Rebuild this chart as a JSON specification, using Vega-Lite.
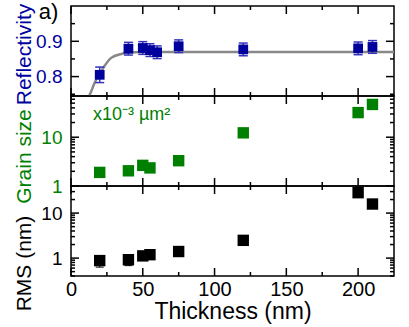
{
  "$schema": "https://vega.github.io/schema/vega-lite/v6.json",
  "padding": {"left": 12, "top": 0, "right": 5, "bottom": 5},
  "background": "white",
  "config": {
    "view": {"stroke": "#000", "strokeWidth": 1.5},
    "axis": {"domain": false, "grid": false, "ticks": false, "labelFont": "Liberation Sans", "titleFont": "Liberation Sans", "titleFontWeight": "normal", "labelColor": "#000", "titleColor": "#000", "labelOverlap": false, "labelFlush": false},
    "rule": {"color": "#000", "strokeWidth": 1.5}
  },
  "datasets": {
    "refl": [
      {"t": 20, "r": 0.805, "lo": 0.783, "hi": 0.827},
      {"t": 40, "r": 0.879, "lo": 0.861, "hi": 0.897},
      {"t": 50, "r": 0.881, "lo": 0.863, "hi": 0.899},
      {"t": 55, "r": 0.875, "lo": 0.857, "hi": 0.893},
      {"t": 60, "r": 0.869, "lo": 0.851, "hi": 0.887},
      {"t": 75, "r": 0.886, "lo": 0.868, "hi": 0.904},
      {"t": 120, "r": 0.877, "lo": 0.859, "hi": 0.895},
      {"t": 200, "r": 0.880, "lo": 0.862, "hi": 0.898},
      {"t": 210, "r": 0.884, "lo": 0.866, "hi": 0.902}
    ],
    "fit": [
      {"t": 12, "r": 0.73},
      {"t": 12.8, "r": 0.745},
      {"t": 14, "r": 0.757},
      {"t": 16, "r": 0.778},
      {"t": 18, "r": 0.795},
      {"t": 20, "r": 0.808},
      {"t": 23, "r": 0.828},
      {"t": 28, "r": 0.853},
      {"t": 35, "r": 0.864},
      {"t": 40, "r": 0.868},
      {"t": 50, "r": 0.87},
      {"t": 225, "r": 0.87}
    ],
    "grain": [
      {"t": 20, "g": 1.9},
      {"t": 40, "g": 2.05},
      {"t": 50, "g": 2.65},
      {"t": 55, "g": 2.35},
      {"t": 75, "g": 3.3},
      {"t": 120, "g": 12.3},
      {"t": 200, "g": 32},
      {"t": 210, "g": 47}
    ],
    "rms": [
      {"t": 20, "rms": 0.88},
      {"t": 40, "rms": 0.92},
      {"t": 50, "rms": 1.12},
      {"t": 55, "rms": 1.19},
      {"t": 75, "rms": 1.4},
      {"t": 120, "rms": 2.48},
      {"t": 200, "rms": 28.4},
      {"t": 210, "rms": 15.9}
    ],
    "rmserr": [
      {"t": 20, "lo": 0.63, "hi": 1.0},
      {"t": 40, "lo": 0.68, "hi": 1.0}
    ],
    "xmaj": [{"v": 0}, {"v": 50}, {"v": 100}, {"v": 150}, {"v": 200}],
    "xmin": [{"v": 25}, {"v": 75}, {"v": 125}, {"v": 175}],
    "y1maj": [{"v": 0.8}, {"v": 0.9}],
    "y1min": [{"v": 0.75}, {"v": 0.85}, {"v": 0.95}],
    "y2maj": [{"v": 1}, {"v": 10}],
    "y2min": [{"v": 2}, {"v": 3}, {"v": 4}, {"v": 5}, {"v": 6}, {"v": 7}, {"v": 8}, {"v": 9}, {"v": 20}, {"v": 30}, {"v": 40}, {"v": 50}, {"v": 60}, {"v": 70}],
    "y3maj": [{"v": 1}, {"v": 10}],
    "y3min": [{"v": 0.4}, {"v": 0.5}, {"v": 0.6}, {"v": 0.7}, {"v": 0.8}, {"v": 0.9}, {"v": 2}, {"v": 3}, {"v": 4}, {"v": 5}, {"v": 6}, {"v": 7}, {"v": 8}, {"v": 9}, {"v": 20}, {"v": 30}, {"v": 40}]
  },
  "spacing": 0,
  "bounds": "flush",
  "vconcat": [
    {
      "width": 323, "height": 90,
      "layer": [
        {
          "data": {"name": "refl"},
          "mark": {"type": "point", "opacity": 0},
          "encoding": {
            "x": {"field": "t", "type": "quantitative", "scale": {"domain": [0, 225], "nice": false, "zero": false},
              "axis": {"orient": "bottom", "values": [0, 50, 100, 150, 200], "labels": false, "title": null}},
            "y": {"field": "r", "type": "quantitative", "scale": {"domain": [0.745, 1.0], "nice": false, "zero": false},
              "axis": {"orient": "left", "values": [0.8, 0.9], "format": ".1f",
                "labelPadding": 9, "labelFontSize": 19, "labelColor": "#0000a0",
                "title": "Reflectivity", "titleColor": "#0000a0", "titleFontSize": 21, "titleX": -37, "titleY": 48}}
          }
        },
        {"data": {"name": "xmaj"}, "mark": {"type": "rule"},
          "encoding": {"x": {"field": "v", "type": "quantitative"}, "y": {"datum": 0.745, "type": "quantitative"}, "y2": {"datum": 0.7677}}},
        {"data": {"name": "xmin"}, "mark": {"type": "rule"},
          "encoding": {"x": {"field": "v", "type": "quantitative"}, "y": {"datum": 0.745, "type": "quantitative"}, "y2": {"datum": 0.7563}}},
        {"data": {"name": "xmaj"}, "mark": {"type": "rule"},
          "encoding": {"x": {"field": "v", "type": "quantitative"}, "y": {"datum": 1.0, "type": "quantitative"}, "y2": {"datum": 0.9773}}},
        {"data": {"name": "xmin"}, "mark": {"type": "rule"},
          "encoding": {"x": {"field": "v", "type": "quantitative"}, "y": {"datum": 1.0, "type": "quantitative"}, "y2": {"datum": 0.9887}}},
        {"data": {"name": "y1maj"}, "mark": {"type": "rule"},
          "encoding": {"y": {"field": "v", "type": "quantitative"}, "x": {"datum": 0, "type": "quantitative"}, "x2": {"datum": 5.57}}},
        {"data": {"name": "y1min"}, "mark": {"type": "rule"},
          "encoding": {"y": {"field": "v", "type": "quantitative"}, "x": {"datum": 0, "type": "quantitative"}, "x2": {"datum": 2.79}}},
        {"data": {"name": "y1maj"}, "mark": {"type": "rule"},
          "encoding": {"y": {"field": "v", "type": "quantitative"}, "x": {"datum": 225, "type": "quantitative"}, "x2": {"datum": 219.43}}},
        {"data": {"name": "y1min"}, "mark": {"type": "rule"},
          "encoding": {"y": {"field": "v", "type": "quantitative"}, "x": {"datum": 225, "type": "quantitative"}, "x2": {"datum": 222.21}}},
        {
          "data": {"name": "fit"},
          "mark": {"type": "line", "color": "#888888", "strokeWidth": 2.5, "interpolate": "monotone", "clip": true},
          "encoding": {
            "x": {"field": "t", "type": "quantitative"},
            "y": {"field": "r", "type": "quantitative"}
          }
        },
        {
          "data": {"name": "refl"},
          "mark": {"type": "rule", "color": "#3333bb", "strokeWidth": 1.5},
          "encoding": {
            "x": {"field": "t", "type": "quantitative"},
            "y": {"field": "lo", "type": "quantitative"},
            "y2": {"field": "hi"}
          }
        },
        {
          "data": {"name": "refl"},
          "mark": {"type": "tick", "orient": "horizontal", "color": "#3333bb", "size": 9, "thickness": 1.5, "opacity": 1},
          "encoding": {
            "x": {"field": "t", "type": "quantitative"},
            "y": {"field": "lo", "type": "quantitative"}
          }
        },
        {
          "data": {"name": "refl"},
          "mark": {"type": "tick", "orient": "horizontal", "color": "#3333bb", "size": 9, "thickness": 1.5, "opacity": 1},
          "encoding": {
            "x": {"field": "t", "type": "quantitative"},
            "y": {"field": "hi", "type": "quantitative"}
          }
        },
        {
          "data": {"name": "refl"},
          "mark": {"type": "point", "shape": "square", "filled": true, "size": 95, "opacity": 1, "color": "#00009c"},
          "encoding": {
            "x": {"field": "t", "type": "quantitative"},
            "y": {"field": "r", "type": "quantitative"}
          }
        },
        {
          "data": {"values": [{"label": "a)"}]},
          "mark": {"type": "text", "align": "left", "baseline": "alphabetic", "fontSize": 22, "font": "Liberation Sans", "color": "#000"},
          "encoding": {
            "x": {"datum": -22.5, "type": "quantitative"},
            "y": {"datum": 0.962, "type": "quantitative"},
            "text": {"field": "label"}
          }
        }
      ]
    },
    {
      "width": 323, "height": 90,
      "layer": [
        {
          "data": {"name": "grain"},
          "mark": {"type": "point", "opacity": 0},
          "encoding": {
            "x": {"field": "t", "type": "quantitative", "scale": {"domain": [0, 225], "nice": false, "zero": false},
              "axis": {"orient": "bottom", "values": [0, 50, 100, 150, 200], "labels": false, "title": null}},
            "y": {"field": "g", "type": "quantitative", "scale": {"type": "log", "domain": [1, 70], "nice": false},
              "axis": {"orient": "left", "values": [1, 10], "format": "~g",
                "labelPadding": 9, "labelFontSize": 19, "labelColor": "#008000",
                "title": "Grain size", "titleColor": "#008000", "titleFontSize": 21, "titleX": -37, "titleY": 60}}
          }
        },
        {"data": {"name": "xmaj"}, "mark": {"type": "rule"},
          "encoding": {"x": {"field": "v", "type": "quantitative"}, "y": {"datum": 1, "type": "quantitative"}, "y2": {"datum": 1.46}}},
        {"data": {"name": "xmin"}, "mark": {"type": "rule"},
          "encoding": {"x": {"field": "v", "type": "quantitative"}, "y": {"datum": 1, "type": "quantitative"}, "y2": {"datum": 1.208}}},
        {"data": {"name": "xmaj"}, "mark": {"type": "rule"},
          "encoding": {"x": {"field": "v", "type": "quantitative"}, "y": {"datum": 70, "type": "quantitative"}, "y2": {"datum": 47.9}}},
        {"data": {"name": "xmin"}, "mark": {"type": "rule"},
          "encoding": {"x": {"field": "v", "type": "quantitative"}, "y": {"datum": 70, "type": "quantitative"}, "y2": {"datum": 57.9}}},
        {"data": {"name": "y2maj"}, "mark": {"type": "rule"},
          "encoding": {"y": {"field": "v", "type": "quantitative"}, "x": {"datum": 0, "type": "quantitative"}, "x2": {"datum": 5.57}}},
        {"data": {"name": "y2min"}, "mark": {"type": "rule"},
          "encoding": {"y": {"field": "v", "type": "quantitative"}, "x": {"datum": 0, "type": "quantitative"}, "x2": {"datum": 2.79}}},
        {"data": {"name": "y2maj"}, "mark": {"type": "rule"},
          "encoding": {"y": {"field": "v", "type": "quantitative"}, "x": {"datum": 225, "type": "quantitative"}, "x2": {"datum": 219.43}}},
        {"data": {"name": "y2min"}, "mark": {"type": "rule"},
          "encoding": {"y": {"field": "v", "type": "quantitative"}, "x": {"datum": 225, "type": "quantitative"}, "x2": {"datum": 222.21}}},
        {
          "mark": {"type": "rule", "color": "#a0a0a0", "strokeWidth": 1},
          "encoding": {
            "y": {"datum": 2, "type": "quantitative"}
          }
        },
        {
          "data": {"name": "grain"},
          "mark": {"type": "point", "shape": "square", "filled": true, "size": 130, "opacity": 1, "color": "#008000"},
          "encoding": {
            "x": {"field": "t", "type": "quantitative"},
            "y": {"field": "g", "type": "quantitative"}
          }
        },
        {
          "data": {"values": [{"label": "x10⁻³ µm²"}]},
          "mark": {"type": "text", "align": "left", "baseline": "alphabetic", "fontSize": 18, "font": "Liberation Sans", "color": "#008000"},
          "encoding": {
            "x": {"datum": 15.3, "type": "quantitative"},
            "y": {"datum": 23, "type": "quantitative"},
            "text": {"field": "label"}
          }
        }
      ]
    },
    {
      "width": 323, "height": 90,
      "layer": [
        {
          "data": {"name": "rms"},
          "mark": {"type": "point", "opacity": 0},
          "encoding": {
            "x": {"field": "t", "type": "quantitative", "scale": {"domain": [0, 225], "nice": false, "zero": false},
              "axis": {"orient": "bottom", "values": [0, 50, 100, 150, 200], "format": "d",
                "labelPadding": 3, "labelFontSize": 20,
                "title": "Thickness (nm)", "titleFontSize": 23, "titleY": 24}},
            "y": {"field": "rms", "type": "quantitative", "scale": {"type": "log", "domain": [0.4, 40], "nice": false},
              "axis": {"orient": "left", "values": [1, 10], "format": "~g",
                "labelPadding": 9, "labelFontSize": 19,
                "title": "RMS (nm)", "titleFontSize": 21, "titleX": -37, "titleY": 77}}
          }
        },
        {"data": {"name": "xmaj"}, "mark": {"type": "rule"},
          "encoding": {"x": {"field": "v", "type": "quantitative"}, "y": {"datum": 0.4, "type": "quantitative"}, "y2": {"datum": 0.602}}},
        {"data": {"name": "xmin"}, "mark": {"type": "rule"},
          "encoding": {"x": {"field": "v", "type": "quantitative"}, "y": {"datum": 0.4, "type": "quantitative"}, "y2": {"datum": 0.491}}},
        {"data": {"name": "xmaj"}, "mark": {"type": "rule"},
          "encoding": {"x": {"field": "v", "type": "quantitative"}, "y": {"datum": 40, "type": "quantitative"}, "y2": {"datum": 26.56}}},
        {"data": {"name": "xmin"}, "mark": {"type": "rule"},
          "encoding": {"x": {"field": "v", "type": "quantitative"}, "y": {"datum": 40, "type": "quantitative"}, "y2": {"datum": 32.6}}},
        {"data": {"name": "y3maj"}, "mark": {"type": "rule"},
          "encoding": {"y": {"field": "v", "type": "quantitative"}, "x": {"datum": 0, "type": "quantitative"}, "x2": {"datum": 5.57}}},
        {"data": {"name": "y3min"}, "mark": {"type": "rule"},
          "encoding": {"y": {"field": "v", "type": "quantitative"}, "x": {"datum": 0, "type": "quantitative"}, "x2": {"datum": 2.79}}},
        {"data": {"name": "y3maj"}, "mark": {"type": "rule"},
          "encoding": {"y": {"field": "v", "type": "quantitative"}, "x": {"datum": 225, "type": "quantitative"}, "x2": {"datum": 219.43}}},
        {"data": {"name": "y3min"}, "mark": {"type": "rule"},
          "encoding": {"y": {"field": "v", "type": "quantitative"}, "x": {"datum": 225, "type": "quantitative"}, "x2": {"datum": 222.21}}},
        {
          "mark": {"type": "rule", "color": "#a0a0a0", "strokeWidth": 1},
          "encoding": {
            "y": {"datum": 1, "type": "quantitative"}
          }
        },
        {
          "data": {"name": "rmserr"},
          "mark": {"type": "rule", "color": "#000", "strokeWidth": 1},
          "encoding": {
            "x": {"field": "t", "type": "quantitative"},
            "y": {"field": "lo", "type": "quantitative"},
            "y2": {"field": "hi"}
          }
        },
        {
          "data": {"name": "rmserr"},
          "mark": {"type": "tick", "orient": "horizontal", "color": "#000", "size": 8, "thickness": 1, "opacity": 1},
          "encoding": {
            "x": {"field": "t", "type": "quantitative"},
            "y": {"field": "lo", "type": "quantitative"}
          }
        },
        {
          "data": {"name": "rms"},
          "mark": {"type": "point", "shape": "square", "filled": true, "size": 130, "opacity": 1, "color": "#000"},
          "encoding": {
            "x": {"field": "t", "type": "quantitative"},
            "y": {"field": "rms", "type": "quantitative"}
          }
        }
      ]
    }
  ]
}
